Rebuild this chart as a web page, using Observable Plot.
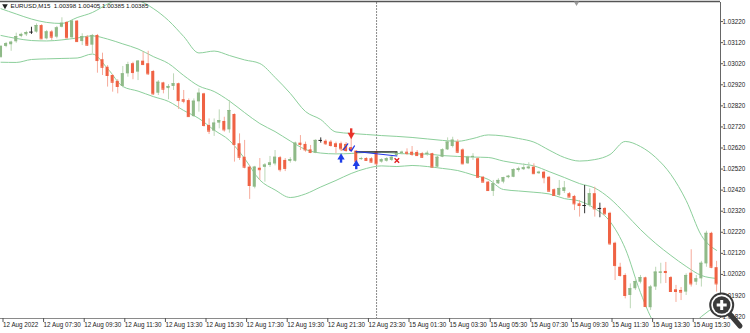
<!DOCTYPE html>
<html><head><meta charset="utf-8">
<script src="https://cdn.jsdelivr.net/npm/d3@7"></script>
<script src="https://cdn.jsdelivr.net/npm/@observablehq/plot@0.6"></script>
<style>
html,body{margin:0;padding:0;background:#fff;}
#wrap{position:relative;width:750px;height:333px;overflow:hidden;background:#fff;}
#zoomicon{position:absolute;left:700px;top:288px;}
</style></head><body>
<div id="wrap"></div>
<script>
// ---- data ----
const titleText = ["EURUSD,M15  1.00398 1.00405 1.00385 1.00385"];
const xTickIdx = [0,8,16,24,32,40,48,56,64,72,80,88,96,104,112,120,128,136];
const xLabels = ["12 Aug 2022","12 Aug 07:30","12 Aug 09:30","12 Aug 11:30","12 Aug 13:30","12 Aug 15:30","12 Aug 17:30","12 Aug 19:30","12 Aug 21:30","12 Aug 23:30","15 Aug 01:30","15 Aug 03:30","15 Aug 05:30","15 Aug 07:30","15 Aug 09:30","15 Aug 11:30","15 Aug 13:30","15 Aug 15:30"];
const priceTicks = [1.01820,1.01920,1.02020,1.02120,1.02220,1.02320,1.02420,1.02520,1.02620,1.02720,1.02820,1.02920,1.03020,1.03120,1.03220];
const separatorIdx = [74];
const shiftMarkerIdx = [113.4];

const opens = [1.03050,1.03102,1.03110,1.03124,1.03149,1.03157,1.03170,1.03170,1.03201,1.03138,
1.03171,1.03146,1.03193,1.03216,1.03143,1.03222,1.03125,1.03146,1.03108,1.03154,
1.03039,1.03003,1.02964,1.02936,1.02912,1.02972,1.03020,1.02980,1.03032,1.03020,
1.02983,1.02880,1.02929,1.02902,1.02912,1.02925,1.02849,1.02845,1.02769,1.02839,
1.02877,1.02727,1.02700,1.02738,1.02746,1.02706,1.02779,1.02640,1.02576,1.02529,
1.02434,1.02524,1.02528,1.02537,1.02544,1.02574,1.02561,1.02556,1.02557,1.02643,
1.02637,1.02611,1.02595,1.02656,1.02652,1.02648,1.02640,1.02640,1.02637,1.02622,
1.02605,1.02565,1.02570,1.02569,1.02600,1.02553,1.02557,1.02561,1.02584,1.02593,
1.02600,1.02600,1.02599,1.02593,1.02588,1.02593,1.02529,1.02576,1.02611,1.02627,
1.02648,1.02611,1.02545,1.02574,1.02569,1.02481,1.02458,1.02414,1.02450,1.02458,
1.02479,1.02481,1.02513,1.02517,1.02521,1.02529,1.02498,1.02505,1.02481,1.02422,
1.02395,1.02414,1.02403,1.02390,1.02355,1.02347,1.02347,1.02403,1.02333,1.02333,
1.02310,1.02168,1.02054,1.02015,1.01920,1.01952,1.01983,1.02004,1.01862,1.01960,
1.02026,1.02034,1.02005,1.01947,1.01944,1.01936,1.02026,1.01983,1.01999,1.02070,
1.02215,1.02052];
const highs = [1.03106,1.03121,1.03127,1.03165,1.03165,1.03174,1.03193,1.03209,1.03205,1.03178,
1.03178,1.03197,1.03238,1.03220,1.03225,1.03225,1.03162,1.03154,1.03159,1.03159,
1.03070,1.03011,1.02969,1.02944,1.03007,1.03027,1.03027,1.03035,1.03075,1.03079,
1.02988,1.02940,1.02932,1.02921,1.02972,1.02928,1.02893,1.02853,1.02853,1.02901,
1.02880,1.02758,1.02758,1.02801,1.02766,1.02845,1.02782,1.02687,1.02656,1.02537,
1.02533,1.02570,1.02546,1.02580,1.02608,1.02580,1.02570,1.02574,1.02648,1.02679,
1.02648,1.02632,1.02659,1.02668,1.02659,1.02656,1.02648,1.02648,1.02646,1.02667,
1.02608,1.02576,1.02574,1.02574,1.02608,1.02569,1.02574,1.02584,1.02603,1.02605,
1.02616,1.02627,1.02608,1.02599,1.02605,1.02595,1.02581,1.02616,1.02668,1.02671,
1.02659,1.02616,1.02581,1.02593,1.02574,1.02485,1.02462,1.02466,1.02474,1.02481,
1.02490,1.02521,1.02529,1.02545,1.02550,1.02545,1.02510,1.02510,1.02485,1.02426,
1.02466,1.02461,1.02409,1.02395,1.02371,1.02442,1.02426,1.02434,1.02358,1.02338,
1.02315,1.02173,1.02073,1.02023,1.01975,1.01999,1.02015,1.02007,1.01968,1.02054,
1.02073,1.02077,1.02010,1.01968,1.01958,1.02023,1.02137,1.02015,1.02082,1.02225,
1.02220,1.02082];
const lows = [1.03045,1.03096,1.03079,1.03117,1.03143,1.03149,1.03159,1.03165,1.03135,1.03133,
1.03130,1.03138,1.03190,1.03138,1.03138,1.03122,1.03106,1.03102,1.03067,1.02975,
1.02964,1.02909,1.02885,1.02877,1.02906,1.02956,1.02944,1.02940,1.03011,1.02964,
1.02869,1.02869,1.02877,1.02849,1.02893,1.02803,1.02830,1.02766,1.02766,1.02790,
1.02719,1.02684,1.02675,1.02711,1.02695,1.02690,1.02553,1.02561,1.02521,1.02376,
1.02426,1.02466,1.02458,1.02528,1.02535,1.02505,1.02508,1.02548,1.02553,1.02608,
1.02600,1.02593,1.02593,1.02643,1.02632,1.02624,1.02593,1.02603,1.02599,1.02601,
1.02553,1.02561,1.02556,1.02548,1.02537,1.02548,1.02553,1.02556,1.02580,1.02588,
1.02584,1.02580,1.02580,1.02570,1.02581,1.02528,1.02526,1.02574,1.02608,1.02620,
1.02593,1.02540,1.02542,1.02561,1.02479,1.02455,1.02414,1.02390,1.02447,1.02450,
1.02474,1.02479,1.02505,1.02513,1.02517,1.02494,1.02494,1.02450,1.02410,1.02390,
1.02390,1.02404,1.02385,1.02323,1.02292,1.02308,1.02339,1.02292,1.02289,1.02299,
1.02157,1.01991,1.02007,1.01904,1.01857,1.01944,1.01975,1.01862,1.01849,1.01944,
1.01975,1.01977,1.01934,1.01887,1.01896,1.01920,1.01960,1.01968,1.01960,1.02054,
1.02047,1.01936];
const closes = [1.03102,1.03115,1.03122,1.03149,1.03159,1.03168,1.03170,1.03201,1.03138,1.03171,
1.03146,1.03190,1.03212,1.03143,1.03222,1.03125,1.03149,1.03108,1.03154,1.03035,
1.03003,1.02964,1.02932,1.02912,1.02972,1.03015,1.02978,1.03032,1.03016,1.02972,
1.02877,1.02932,1.02899,1.02912,1.02925,1.02845,1.02842,1.02769,1.02842,1.02880,
1.02727,1.02700,1.02738,1.02750,1.02706,1.02798,1.02637,1.02576,1.02529,1.02442,
1.02529,1.02517,1.02539,1.02549,1.02576,1.02517,1.02523,1.02565,1.02643,1.02637,
1.02611,1.02599,1.02656,1.02656,1.02640,1.02632,1.02627,1.02616,1.02608,1.02608,
1.02557,1.02570,1.02561,1.02553,1.02545,1.02564,1.02569,1.02576,1.02597,1.02600,
1.02595,1.02590,1.02584,1.02576,1.02595,1.02529,1.02576,1.02611,1.02648,1.02657,
1.02600,1.02545,1.02576,1.02580,1.02481,1.02458,1.02418,1.02450,1.02466,1.02479,
1.02486,1.02517,1.02521,1.02526,1.02529,1.02498,1.02505,1.02479,1.02415,1.02395,
1.02428,1.02430,1.02387,1.02355,1.02347,1.02347,1.02403,1.02331,1.02333,1.02308,
1.02165,1.02062,1.02015,1.01920,1.01952,1.01986,1.02005,1.01868,1.01960,1.02031,
1.02031,1.02029,1.01939,1.01939,1.01936,1.02015,1.01975,1.01999,1.02073,1.02215,
1.02054,1.01975];

// Bollinger bands, read every 3rd bar
const bandIdx = [0,3,6,9,12,15,18,21,24,27,30,33,36,39,42,45,48,51,54,57,60,63,66,69,72,75,78,81,84,87,90,93,96,99,102,105,108,111,114,117,120,123,126,129,132,135,138,141];
const upperBand = [1.03281,1.03256,1.03232,1.03216,1.03211,1.03239,1.03263,1.03303,1.03330,1.03320,
1.03282,1.03225,1.03149,1.03071,1.03080,1.03059,1.03038,1.03021,1.02955,1.02879,
1.02793,1.02755,1.02696,1.02689,1.02684,1.02679,1.02675,1.02670,1.02663,1.02656,
1.02652,1.02665,1.02682,1.02677,1.02665,1.02648,1.02610,1.02575,1.02558,1.02565,
1.02589,1.02651,1.02627,1.02575,1.02494,1.02371,1.02205,1.02134];
const middleBand = [1.03154,1.03140,1.03130,1.03128,1.03133,1.03142,1.03152,1.03137,1.03114,1.03090,
1.03054,1.03021,1.02964,1.02914,1.02888,1.02843,1.02788,1.02736,1.02698,1.02653,
1.02613,1.02596,1.02592,1.02594,1.02599,1.02600,1.02594,1.02592,1.02591,1.02584,
1.02580,1.02577,1.02575,1.02558,1.02546,1.02535,1.02508,1.02480,1.02451,1.02430,
1.02380,1.02309,1.02233,1.02167,1.02110,1.02058,1.02015,1.02001];
const lowerBand = [1.03027,1.03026,1.03040,1.03043,1.03045,1.03047,1.03066,1.02997,1.02912,1.02890,
1.02864,1.02841,1.02798,1.02760,1.02705,1.02656,1.02570,1.02468,1.02421,1.02385,
1.02402,1.02435,1.02466,1.02499,1.02523,1.02535,1.02532,1.02537,1.02532,1.02523,
1.02513,1.02492,1.02471,1.02423,1.02416,1.02410,1.02402,1.02380,1.02368,1.02333,
1.02271,1.02143,1.01934,1.01778,1.01730,1.01754,1.01820,1.01873];

// trade markers
const upArrowIdx = [67, 70];
const upArrowHead = [1.02575, 1.02544];
const upArrowTail = [1.02548, 1.02517];
const downArrowIdx = [69];
const downArrowHead = [1.02682];
const downArrowTail = [1.02711];
const tradeIdx = [70, 78];
const tradeOpenLine = [1.02602, 1.02602];
const tradeBlueLine = [1.02603, 1.02582];
const closeMarkIdx = [78];
const closeMarkPrice = [1.02561];
const signalBlueIdx = [67.43, 68.33];
const signalBluePrice = [1.02611, 1.02640];
const signalOrangeIdx = [67.2, 68.1];
const signalOrangePrice = [1.02609, 1.02638];
const checkIdx = [68.6, 69.0, 69.65];
const checkPrice = [1.02616, 1.02605, 1.02630];

// ---- build ----
const candles = opens.map((o, i) => ({i, open: o, high: highs[i], low: lows[i], close: closes[i]}));
const up = d => d.close > d.open, down = d => d.close < d.open, flat = d => d.close === d.open;
const bands = [upperBand, middleBand, lowerBand].map(arr => bandIdx.map((i, k) => ({i, v: arr[k]})));

const BULL = "#8fba88", BEAR = "#ef6244", BULLW = "#bcd7b6", BEARW = "#f6ab9b", BAND = "#8ccf9b";
const hw = 0.3;
const yTop = 1.033105, yBot = 1.018108, xMin = -0.1, xMax = 141.77;

const marks = [
  Plot.ruleX(separatorIdx, {x: d => d, stroke: "#8a8a8a", strokeWidth: 1, strokeDasharray: "2,1"}),
  ...bands.map(b => Plot.line(b, {x: "i", y: "v", stroke: BAND, strokeWidth: 1, curve: "monotone-x", clip: true})),
  Plot.ruleX(candles, {filter: up, x: "i", y1: "low", y2: "high", stroke: BULLW, strokeWidth: 1}),
  Plot.ruleX(candles, {filter: down, x: "i", y1: "low", y2: "high", stroke: BEARW, strokeWidth: 1}),
  Plot.ruleX(candles, {filter: flat, x: "i", y1: "low", y2: "high", stroke: "#333", strokeWidth: 1}),
  Plot.rect(candles, {filter: up, x1: d => d.i - hw, x2: d => d.i + hw, y1: "open", y2: "close", fill: BULL}),
  Plot.rect(candles, {filter: down, x1: d => d.i - hw, x2: d => d.i + hw, y1: "open", y2: "close", fill: BEAR}),
  Plot.ruleY(candles, {filter: up, x1: d => d.i - hw, x2: d => d.i + hw, y: "close", stroke: BULL, strokeWidth: 1}),
  Plot.ruleY(candles, {filter: down, x1: d => d.i - hw, x2: d => d.i + hw, y: "close", stroke: BEAR, strokeWidth: 1}),
  Plot.ruleY(candles, {filter: flat, x1: d => d.i - 0.35, x2: d => d.i + 0.35, y: "close", stroke: "#222", strokeWidth: 1}),
  // trade lines
  Plot.line(tradeIdx.map((i, k) => ({i, p: tradeOpenLine[k]})), {x: "i", y: "p", stroke: "#222", strokeWidth: 1.3}),
  Plot.line(tradeIdx.map((i, k) => ({i, p: tradeBlueLine[k]})), {x: "i", y: "p", stroke: "#2336e6", strokeWidth: 1}),
  Plot.line(signalOrangeIdx.map((i, k) => ({i, p: signalOrangePrice[k]})), {x: "i", y: "p", stroke: "#f0a030", strokeWidth: 1}),
  Plot.line(signalBlueIdx.map((i, k) => ({i, p: signalBluePrice[k]})), {x: "i", y: "p", stroke: "#2336e6", strokeWidth: 1.2}),
  Plot.line(checkIdx.map((i, k) => ({i, p: checkPrice[k]})), {x: "i", y: "p", stroke: "#2336e6", strokeWidth: 1.2}),
  // arrows
  Plot.ruleX(upArrowIdx.map((i, k) => ({i, a: upArrowTail[k], b: upArrowHead[k]})), {x: "i", y1: "a", y2: "b", stroke: "#1f3fe8", strokeWidth: 2.4}),
  Plot.dot(upArrowIdx.map((i, k) => ({i, p: upArrowHead[k]})), {x: "i", y: "p", symbol: "triangle", r: 2.7, fill: "#1f3fe8", stroke: "none"}),
  Plot.ruleX(downArrowIdx.map((i, k) => ({i, a: downArrowTail[k], b: downArrowHead[k]})), {x: "i", y1: "a", y2: "b", stroke: "#e8332a", strokeWidth: 2.4}),
  Plot.dot(downArrowIdx.map((i, k) => ({i, p: downArrowHead[k]})), {x: "i", y: "p", symbol: "triangle", rotate: 180, r: 2.7, fill: "#e8332a", stroke: "none"}),
  Plot.dot(closeMarkIdx.map((i, k) => ({i, p: closeMarkPrice[k]})), {x: "i", y: "p", symbol: "times", r: 2.2, stroke: "#e02020", strokeWidth: 1.4}),
  // frame lines
  Plot.ruleY([yTop], {y: d => d, stroke: "#555", strokeWidth: 1.5, dy: -1}),
  Plot.ruleY([yBot], {y: d => d, stroke: "#8a8a8a", strokeWidth: 1}),
  Plot.ruleX([xMax], {x: d => d, stroke: "#666", strokeWidth: 1}),
  Plot.dot(shiftMarkerIdx, {x: d => d, y: () => yTop, dy: 0.5, symbol: "triangle", rotate: 180, r: 2, fill: "#9a9a9a", stroke: "none"}),
  // axes
  Plot.axisY(priceTicks, {anchor: "right", tickSize: 2, tickPadding: 0, tickFormat: d => d.toFixed(5), stroke: "#555", fill: "#222", fontSize: 6.3, label: null}),
  Plot.axisX(xTickIdx, {anchor: "bottom", tickSize: 4, tickPadding: 0, textAnchor: "start", dx: 2, tickFormat: d => xLabels[xTickIdx.indexOf(d)], stroke: "#555", fill: "#222", fontSize: 6.3, label: null}),
  // title
  Plot.dot([0], {frameAnchor: "top-left", dx: 4.5, dy: 3.5, symbol: "triangle", rotate: 180, r: 2.1, fill: "#222", stroke: "none"}),
  Plot.text(titleText, {frameAnchor: "top-left", dx: 10, dy: 1, text: d => d, textAnchor: "start", lineAnchor: "top", fontSize: 6.2, fill: "#111"})
];

const chart = Plot.plot({
  width: 750, height: 333,
  marginLeft: 0, marginRight: 30, marginTop: 2, marginBottom: 15,
  style: {fontFamily: "'Liberation Sans', Arial, sans-serif", fontSize: "6.3px", background: "#fff", overflow: "visible"},
  x: {domain: [xMin, xMax], axis: null, label: null},
  y: {domain: [yBot, yTop], axis: null, label: null},
  marks
});
const wrap = document.getElementById("wrap");
wrap.appendChild(chart);

// zoom (magnifier) UI icon in the lower right corner
wrap.insertAdjacentHTML("beforeend", `<svg id="zoomicon" width="48" height="45" viewBox="0 0 48 45">
<line x1="28" y1="24" x2="40" y2="38" stroke="#3a3a3a" stroke-width="5" stroke-linecap="round"/>
<circle cx="21.7" cy="17" r="11.5" fill="#fff" stroke="#3a3a3a" stroke-width="2"/>
<circle cx="21.7" cy="17" r="8.8" fill="#3a3a3a"/>
<path d="M16.7 17 H26.7 M21.7 12 V22" stroke="#fff" stroke-width="3"/>
</svg>`);
</script>
</body></html>
